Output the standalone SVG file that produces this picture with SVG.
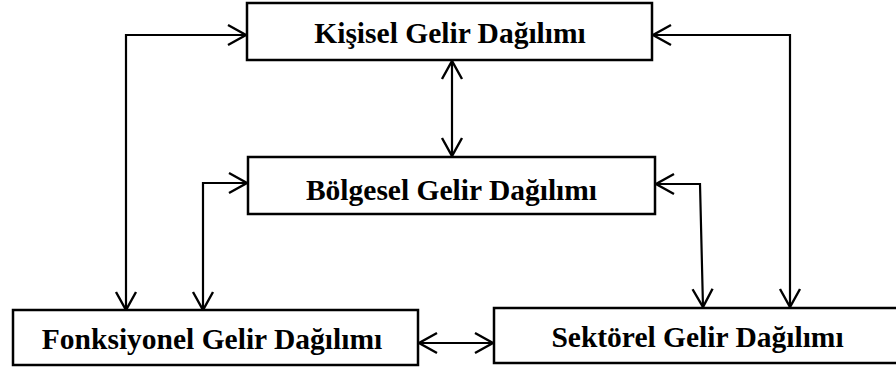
<svg xmlns="http://www.w3.org/2000/svg" width="896" height="369" viewBox="0 0 896 369">
  <style>
    .box { fill: #ffffff; stroke: #000000; stroke-width: 2.5; }
    .lbl { font-family: "Liberation Serif", "Times New Roman", serif; font-weight: bold; font-size: 29.5px; fill: #000000; text-anchor: middle; }
    .link { fill: none; stroke: #000000; stroke-width: 2.2; marker-end: url(#arrow); }
    .both { marker-start: url(#arrowStart); }
  </style>
  <defs>
    <marker id="arrow" markerUnits="userSpaceOnUse" markerWidth="22" markerHeight="24" refX="19" refY="11" orient="auto" overflow="visible">
      <path d="M1,1 L19,11 L1,21" fill="none" stroke="#000000" stroke-width="2.4"/>
    </marker>
    <marker id="arrowStart" markerUnits="userSpaceOnUse" markerWidth="22" markerHeight="24" refX="1" refY="11" orient="auto" overflow="visible">
      <path d="M19,1 L1,11 L19,21" fill="none" stroke="#000000" stroke-width="2.4"/>
    </marker>
  </defs>

  <g id="connectors">
    <!-- left outer loop: Fonksiyonel <-> Kişisel -->
    <path class="link both" d="M126,310 L126,35 L246,35"/>
    <!-- right outer loop: Kişisel <-> Sektörel -->
    <path class="link both" d="M653,35 L790,35 L790,307"/>
    <!-- Kişisel <-> Bölgesel -->
    <path class="link both" d="M452,61 L452,156"/>
    <!-- Fonksiyonel <-> Bölgesel -->
    <path class="link both" d="M203,310 L203,183 L247,183"/>
    <!-- Bölgesel <-> Sektörel -->
    <path class="link both" d="M656,184 L700,184 L703,307"/>
    <!-- Fonksiyonel <-> Sektörel -->
    <path class="link both" d="M419,343 L493,343"/>
  </g>

  <g id="kisisel">
    <rect class="box" x="247" y="3" width="405" height="57"/>
    <text class="lbl" x="450" y="43">Kişisel Gelir Dağılımı</text>
  </g>

  <g id="bolgesel">
    <rect class="box" x="248" y="157" width="407" height="57"/>
    <text class="lbl" x="451.5" y="200">Bölgesel Gelir Dağılımı</text>
  </g>

  <g id="fonksiyonel">
    <rect class="box" x="13" y="310" width="405" height="55"/>
    <text class="lbl" x="212" y="349">Fonksiyonel Gelir Dağılımı</text>
  </g>

  <g id="sektorel">
    <rect class="box" x="494" y="308" width="410" height="55"/>
    <text class="lbl" x="697.5" y="347">Sektörel Gelir Dağılımı</text>
  </g>
</svg>
